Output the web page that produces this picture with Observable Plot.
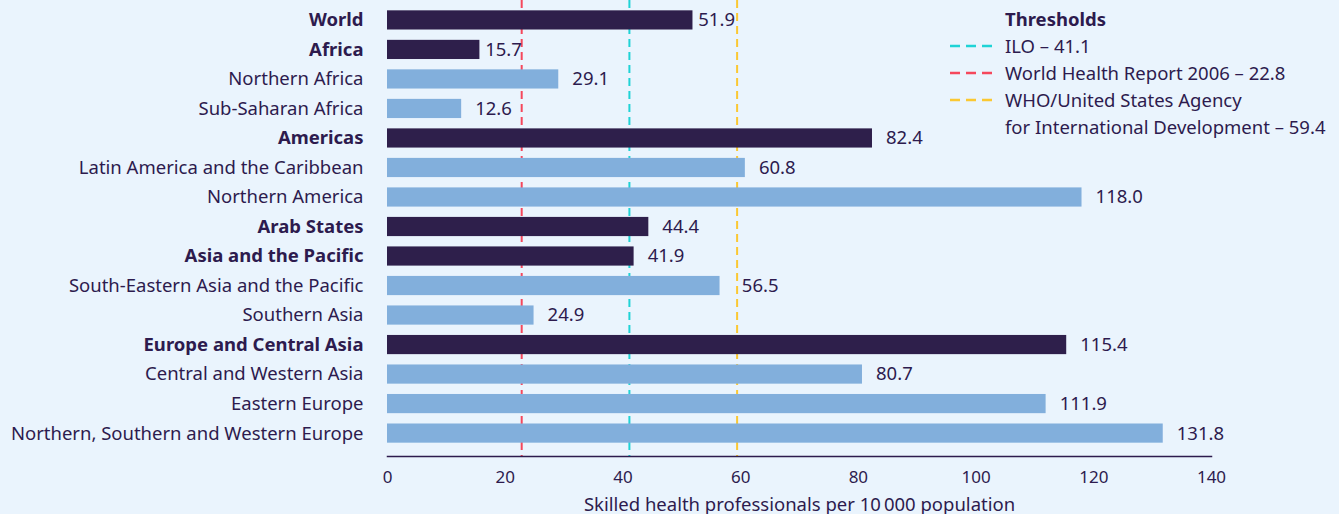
<!DOCTYPE html>
<html>
<head>
<meta charset="utf-8">
<script src="https://cdn.jsdelivr.net/npm/d3@7"></script>
<script src="https://cdn.jsdelivr.net/npm/@observablehq/plot@0.6"></script>
<style>
  html, body { margin: 0; padding: 0; background: #eaf4fd; }
  body { width: 1339px; height: 514px; position: relative; overflow: hidden; font-family: "Noto Sans", sans-serif; color: #2d1b4e; }
  #chart { position: absolute; left: 0; top: 0; }
  #legend { position: absolute; left: 948px; top: 5px; font-size: 18.5px; line-height: 27px; }
  #legend .title { font-weight: bold; padding-left: 57px; }
  #legend .row { display: flex; align-items: flex-start; }
  #legend .row svg { width: 44px; height: 27px; flex: none; margin-right: 13px; }
</style>
</head>
<body>
<div id="chart"></div>
<div id="legend"></div>
<script>
const regions = [
  "World", "Africa", "Northern Africa", "Sub-Saharan Africa", "Americas",
  "Latin America and the Caribbean", "Northern America", "Arab States",
  "Asia and the Pacific", "South-Eastern Asia and the Pacific", "Southern Asia",
  "Europe and Central Asia", "Central and Western Asia", "Eastern Europe",
  "Northern, Southern and Western Europe"
];
const values = [51.9, 15.7, 29.1, 12.6, 82.4, 60.8, 118.0, 44.4, 41.9, 56.5, 24.9, 115.4, 80.7, 111.9, 131.8];
const isAggregate = [true, true, false, false, true, false, false, true, true, false, false, true, false, false, false];

const thresholdNames = ["ILO", "World Health Report 2006", "WHO/United States Agency\nfor International Development"];
const thresholdValues = [41.1, 22.8, 59.4];
const thresholdColors = ["#1fd3d6", "#f5475c", "#fbc832"];

const xTicks = [0, 20, 40, 60, 80, 100, 120, 140];
const xLabel = "Skilled health professionals per 10\u202f000 population";

const dark = "#2d1b4e";
const barDark = "#2e1f4b";
const barLight = "#82afdc";

const data = regions.map((r, i) => ({ region: r, value: values[i], aggregate: isAggregate[i] }));

// place value labels so they do not collide with threshold lines (data units)
function labelX(v) {
  const start = v + 2.3;
  const hit = thresholdValues.find(t => t > start - 0.5 && t < start + 6.8);
  if (hit === undefined) return start;
  if (hit - v > 7.0) return v + 0.9;
  return hit + 0.8;
}

const thresholds = thresholdNames.map((n, i) => ({ name: n, value: thresholdValues[i], color: thresholdColors[i] }));

const chart = Plot.plot({
  width: 1339,
  height: 514,
  marginLeft: 387,
  marginRight: 128,
  marginTop: 0,
  marginBottom: 58,
  style: { background: "transparent", fontFamily: "Noto Sans", color: dark },
  x: { domain: [0, 140] },
  y: { domain: regions, padding: 0.35, insetBottom: 3, round: false, axis: null },
  marks: [
    Plot.ruleX(thresholds, { x: "value", stroke: "color", strokeWidth: 2, strokeDasharray: "8,5" }),
    Plot.barX(data, { x: "value", y: "region", fill: d => d.aggregate ? barDark : barLight }),
    Plot.text(data, { x: d => labelX(d.value), y: "region", text: d => d.value.toFixed(1), textAnchor: "start", fontSize: 18.5, fill: dark }),
    Plot.text(data.filter(d => d.aggregate), { y: "region", text: "region", frameAnchor: "left", textAnchor: "end", dx: -24, fontSize: 18.5, fontWeight: "bold", fill: dark }),
    Plot.text(data.filter(d => !d.aggregate), { y: "region", text: "region", frameAnchor: "left", textAnchor: "end", dx: -24, fontSize: 18.5, fill: dark }),
    Plot.frame({ anchor: "bottom", stroke: dark, strokeWidth: 1.5 }),
    Plot.axisX({ ticks: xTicks, tickSize: 0, tickPadding: 14, fontSize: 17, fill: dark, label: null }),
    Plot.axisX({ ticks: [], tickSize: 0, fontSize: 18.5, fill: dark, label: xLabel, labelAnchor: "center", labelArrow: "none", labelOffset: 54 })
  ]
});
document.getElementById("chart").appendChild(chart);

// legend
const legend = document.getElementById("legend");
const title = document.createElement("div");
title.className = "title";
title.textContent = "Thresholds";
legend.appendChild(title);
thresholds.forEach(t => {
  const row = document.createElement("div");
  row.className = "row";
  const svg = document.createElementNS("http://www.w3.org/2000/svg", "svg");
  const line = document.createElementNS("http://www.w3.org/2000/svg", "line");
  line.setAttribute("x1", 2); line.setAttribute("x2", 44);
  line.setAttribute("y1", 14); line.setAttribute("y2", 14);
  line.setAttribute("stroke", t.color);
  line.setAttribute("stroke-width", 2.5);
  line.setAttribute("stroke-dasharray", "10,6");
  svg.appendChild(line);
  row.appendChild(svg);
  const txt = document.createElement("div");
  txt.innerHTML = t.name.split("\n").join("<br>") + " \u2013 " + t.value.toFixed(1);
  row.appendChild(txt);
  legend.appendChild(row);
});
</script>
</body>
</html>
